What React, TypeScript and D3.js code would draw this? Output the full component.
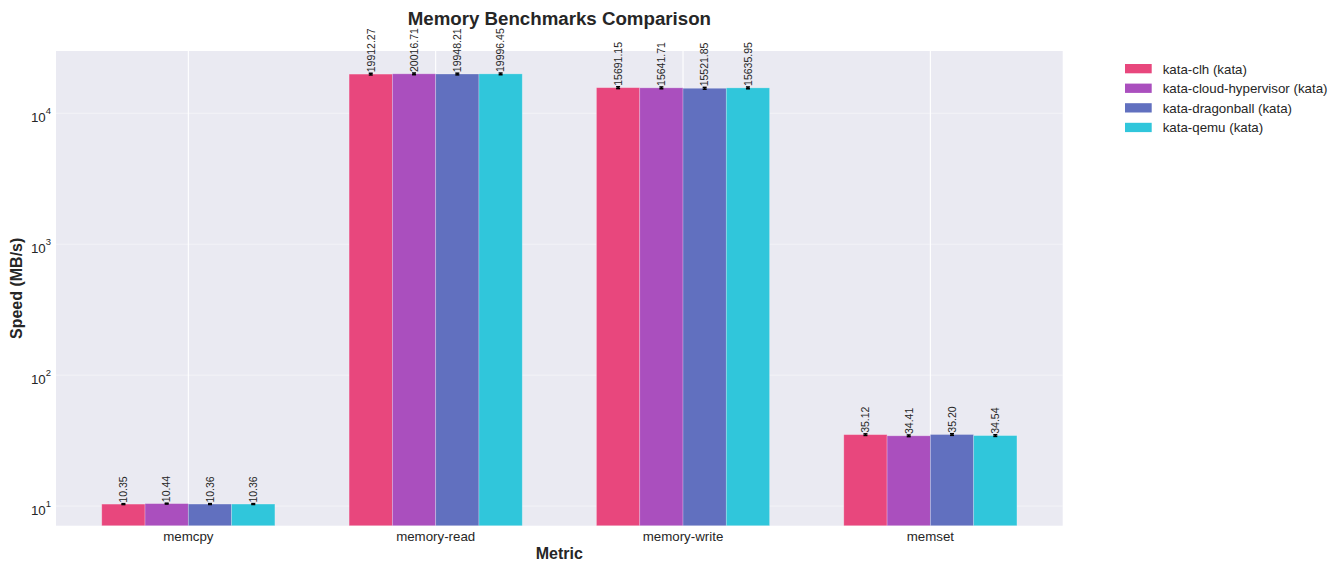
import React from "react";
import * as d3 from "d3";

const metrics = ["memcpy", "memory-read", "memory-write", "memset"];
const runtimes = [
  "kata-clh (kata)",
  "kata-cloud-hypervisor (kata)",
  "kata-dragonball (kata)",
  "kata-qemu (kata)",
];
const clhValues = [10.35, 19912.27, 15691.15, 35.12];
const cloudHvValues = [10.44, 20016.71, 15641.71, 34.41];
const dragonballValues = [10.36, 19948.21, 15521.85, 35.2];
const qemuValues = [10.36, 19996.45, 15635.95, 34.54];
const clhErr = [0.08, 300, 250, 0.5];
const cloudHvErr = [0.08, 300, 250, 0.5];
const dragonballErr = [0.08, 300, 250, 0.5];
const qemuErr = [0.08, 300, 250, 0.5];
const yTicks = [10, 100, 1000, 10000];
const colors = ["#E8477D", "#AA4FBE", "#6170BF", "#30C6DB"];

const seriesValues = [clhValues, cloudHvValues, dragonballValues, qemuValues];
const seriesErr = [clhErr, cloudHvErr, dragonballErr, qemuErr];

const W = 1343;
const H = 567;
const left = 56;
const right = 1062.7;
const top = 51;
const bottom = 525.7;
const font = "'Liberation Sans', Arial, Helvetica, sans-serif";

export default function App() {
  const barW = 0.175;
  const n = runtimes.length;
  const x = d3.scaleLinear().domain([-0.535, metrics.length - 1 + 0.535]).range([left, right]);
  const y = d3.scaleLog().domain([7.08, 29900]).range([bottom, top]);
  const fmt = d3.format(".2f");
  const pxW = x(barW) - x(0);

  return (
    <div style={{ position: "fixed", left: 0, top: 0 }}>
      <svg width={W} height={H} style={{ display: "block", background: "#fff" }} fontFamily={font}>
        <rect x={left} y={top} width={right - left} height={bottom - top} fill="#EAEAF2" />
        {/* grid */}
        {yTicks.map((t) => (
          <line key={"gy" + t} x1={left} x2={right} y1={y(t)} y2={y(t)} stroke="#fff" strokeOpacity={0.45} strokeWidth={1} />
        ))}
        {metrics.map((m, i) => (
          <line key={"gx" + m} x1={x(i)} x2={x(i)} y1={top} y2={bottom} stroke="#fff" strokeWidth={1.1} />
        ))}
        {/* bars */}
        {seriesValues.map((vals, s) =>
          vals.map((v, i) => {
            const cx = x(i + (s - (n - 1) / 2) * barW);
            const yt = y(v);
            return (
              <rect
                key={`b${s}-${i}`}
                x={cx - pxW / 2}
                y={yt}
                width={pxW}
                height={bottom - yt}
                fill={colors[s]}
                stroke="#fff"
                strokeOpacity={0.3}
                strokeWidth={0.8}
              />
            );
          })
        )}
        {/* error bars */}
        {seriesValues.map((vals, s) =>
          vals.map((v, i) => {
            const cx = x(i + (s - (n - 1) / 2) * barW);
            const e = seriesErr[s][i];
            const y1 = y(v + e);
            const y2 = y(Math.max(v - e, 1e-6));
            return (
              <g key={`e${s}-${i}`} stroke="#000" strokeWidth={1.5}>
                <line x1={cx} x2={cx} y1={y1} y2={y2} />
                <line x1={cx - 2} x2={cx + 2} y1={y1} y2={y1} />
                <line x1={cx - 2} x2={cx + 2} y1={y2} y2={y2} />
              </g>
            );
          })
        )}
        {/* value labels */}
        {seriesValues.map((vals, s) =>
          vals.map((v, i) => {
            const cx = x(i + (s - (n - 1) / 2) * barW);
            const yt = y(v + seriesErr[s][i]) - 1;
            return (
              <text
                key={`l${s}-${i}`}
                transform={`translate(${cx + 3.8},${yt}) rotate(-90)`}
                fontSize={10.5}
                fill="#262626"
                textAnchor="start"
              >
                {fmt(v)}
              </text>
            );
          })
        )}
        {/* y ticks */}
        {yTicks.map((t) => (
          <text key={"yt" + t} x={51} y={y(t) + 8.5} fontSize={13.3} fill="#262626" textAnchor="end">
            10
            <tspan dy={-8} fontSize={9.5}>
              {String(Math.round(Math.log10(t)))}
            </tspan>
          </text>
        ))}
        {/* x ticks */}
        {metrics.map((m, i) => (
          <text key={"xt" + m} x={x(i)} y={541} fontSize={13.3} fill="#262626" textAnchor="middle">
            {m}
          </text>
        ))}
        {/* axis labels */}
        <text x={(left + right) / 2} y={558.5} fontSize={16} fontWeight="bold" fill="#262626" textAnchor="middle">
          Metric
        </text>
        <text
          transform={`translate(22,${(top + bottom) / 2}) rotate(-90)`}
          fontSize={16}
          fontWeight="bold"
          fill="#262626"
          textAnchor="middle"
        >
          Speed (MB/s)
        </text>
        <text x={(left + right) / 2} y={25} fontSize={18.7} fontWeight="bold" fill="#262626" textAnchor="middle">
          Memory Benchmarks Comparison
        </text>
        {/* legend */}
        {runtimes.map((r, s) => (
          <g key={"lg" + r} transform={`translate(1125,${64 + s * 19.6})`}>
            <rect x={0} y={0} width={26.7} height={9.3} fill={colors[s]} />
            <text x={37.7} y={9.5} fontSize={13.3} fill="#262626">
              {r}
            </text>
          </g>
        ))}
      </svg>
    </div>
  );
}
